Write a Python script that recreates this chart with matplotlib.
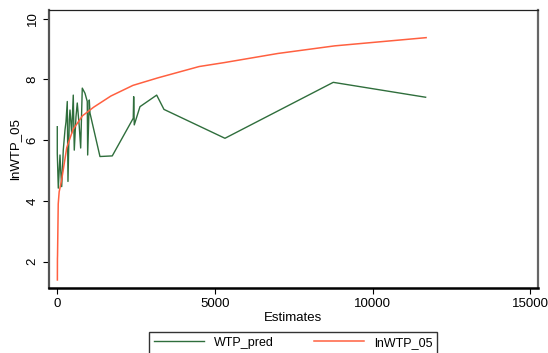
import numpy as np
import matplotlib
matplotlib.use("Agg")
import matplotlib.pyplot as plt

plt.rcParams['font.family'] = ['Liberation Sans', 'DejaVu Sans']

# values
est_pred = [0, 0, 32, 86, 108, 140, 190, 244, 276, 317, 339, 381, 403, 457,
            507, 539, 593, 634, 698, 742, 793, 879, 951, 964, 1015, 1037,
            1354, 1744, 2410, 2423, 2442, 2623, 3153, 3384, 5319, 8754, 11684]
wtp_pred = [6.44, 5.57, 4.42, 5.51, 5.02, 4.47, 5.67, 6.33, 6.6, 7.27, 4.64,
            6.66, 6.99, 6.23, 7.48, 5.67, 6.77, 7.22, 6.44, 5.74, 7.71, 7.54,
            7.27, 5.51, 7.32, 6.89, 5.46, 5.48, 6.72, 7.43, 6.5, 7.1, 7.48,
            7.01, 6.06, 7.9, 7.41]

est_ln = [3, 5, 8, 30, 60, 140, 300, 500, 800, 1150, 1700, 2400, 3200,
          4500, 5300, 7000, 8800, 11700]
ln_wtp = [1.4, 2.1, 2.2, 3.9, 4.3, 4.7, 5.75, 6.35, 6.8, 7.08, 7.45, 7.8,
          8.05, 8.42, 8.55, 8.85, 9.1, 9.37]

xticks = [0, 5000, 10000, 15000]
yticks = [2, 4, 6, 8, 10]

fig = plt.figure(figsize=(5.48, 3.53), dpi=100)
ax = fig.add_axes([0.0894, 0.185, 0.8916, 0.7867])

ax.plot(est_pred, wtp_pred, color='#2f6e3c', lw=1.0, label='WTP_pred')
ax.plot(est_ln, ln_wtp, color='#ff6040', lw=1.1, label='lnWTP_05')

ax.set_xlim(-263, 15236)
ax.set_ylim(1.145, 10.28)
ax.set_xticks(xticks)
ax.set_yticks(yticks)
ax.tick_params(axis='both', direction='out', length=4, width=0.8,
               labelsize=9.5, colors='black')
for lab in ax.get_yticklabels():
    lab.set_rotation(90)
    lab.set_va('center')

ax.spines['left'].set_linewidth(1.6)
ax.spines['left'].set_color('#555555')
ax.spines['bottom'].set_linewidth(1.8)
ax.spines['bottom'].set_color('black')
ax.spines['top'].set_linewidth(0.9)
ax.spines['top'].set_color('#222222')
ax.spines['right'].set_linewidth(1.6)
ax.spines['right'].set_color('#666666')

ax.set_xlabel('Estimates', fontsize=9.5, labelpad=1)
ax.set_ylabel('lnWTP_05', fontsize=9.5, labelpad=4)

leg = fig.legend(loc='upper center', bbox_to_anchor=(293 / 548, 1 - 331.7 / 353),
                 ncol=2, fontsize=9, frameon=True, fancybox=False,
                 edgecolor='black', handlelength=4.0, columnspacing=3.2,
                 handletextpad=0.8, borderaxespad=0)
leg.get_frame().set_linewidth(1.0)

fig.savefig('out.png', dpi=100)
